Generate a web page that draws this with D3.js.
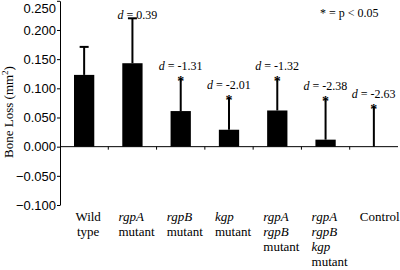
<!DOCTYPE html>
<html><head><meta charset="utf-8">
<script src="https://cdn.jsdelivr.net/npm/d3@7"></script>
<style>body{margin:0;background:#fff}svg{display:block}</style>
</head><body>
<script>
const categories = ["Wild type","rgpA mutant","rgpB mutant","kgp mutant","rgpA rgpB mutant","rgpA rgpB kgp mutant","Control"];
const labelLines = [
  [["Wild",false],["type",false]],
  [["rgpA",true],["mutant",false]],
  [["rgpB",true],["mutant",false]],
  [["kgp",true],["mutant",false]],
  [["rgpA",true],["rgpB",true],["mutant",false]],
  [["rgpA",true],["rgpB",true],["kgp",true],["mutant",false]],
  [["Control",false]]
];
const means = [0.123, 0.143, 0.061, 0.029, 0.062, 0.012, 0.000];
const errUp = [0.048, 0.077, 0.055, 0.055, 0.054, 0.070, 0.068];
const significant = [false, false, true, true, true, true, true];
const dLabels = [null, "0.39", "-1.31", "-2.01", "-1.32", "-2.38", "-2.63"];
const yTicks = [-0.1, -0.05, 0, 0.05, 0.1, 0.15, 0.2, 0.25];

const W = 400, H = 270;
const serif = "Liberation Serif, Times New Roman, serif";
const svg = d3.select("body").append("svg").attr("width", W).attr("height", H);
const y = d3.scaleLinear().domain([-0.1, 0.25]).range([205, 0.8]);
const x = d3.scaleBand().domain(categories).range([60, 398]).paddingInner(0).paddingOuter(0);
const step = x.step();
const barW = step * 0.42;
const cx = c => x(c) + step / 2;

// y axis
const yAxis = svg.append("g").attr("transform", "translate(60,0)")
  .call(d3.axisLeft(y).tickValues(yTicks).tickFormat(d3.format(".3f")).tickSize(3).tickSizeOuter(0));
yAxis.select(".domain").attr("stroke", "#000").attr("stroke-width", 1);
yAxis.selectAll(".tick line").attr("stroke", "#000");
yAxis.selectAll(".tick text").attr("font-family", "Liberation Sans, Arial, sans-serif")
  .attr("font-size", 13).attr("fill", "#000").attr("x", -4)
  .attr("dy", d => d === 0.25 ? "0.9em" : "0.32em");

// zero line with ticks between categories
svg.append("line").attr("x1", 60).attr("x2", 398).attr("y1", y(0)).attr("y2", y(0))
  .attr("stroke", "#000").attr("stroke-width", 1);
svg.selectAll(".zt").data(categories.slice(1)).enter().append("line")
  .attr("x1", d => x(d)).attr("x2", d => x(d))
  .attr("y1", y(0)).attr("y2", y(0) + 3).attr("stroke", "#000");

// bars
svg.selectAll(".bar").data(categories).enter().append("rect")
  .attr("x", d => cx(d) - barW / 2).attr("width", barW)
  .attr("y", (d, i) => y(means[i])).attr("height", (d, i) => y(0) - y(means[i]))
  .attr("fill", "#000");

// error bars
categories.forEach((c, i) => {
  const top = y(means[i] + errUp[i]);
  svg.append("line").attr("x1", cx(c)).attr("x2", cx(c))
    .attr("y1", y(means[i])).attr("y2", top).attr("stroke", "#000").attr("stroke-width", 2);
  if (significant[i]) {
    svg.append("text").attr("x", cx(c)).attr("y", top + 7)
      .attr("text-anchor", "middle").attr("font-family", serif)
      .attr("font-size", 14).attr("font-weight", "bold").text("*");
  } else {
    svg.append("line").attr("x1", cx(c) - 4.5).attr("x2", cx(c) + 4.5)
      .attr("y1", top).attr("y2", top).attr("stroke", "#000").attr("stroke-width", 2);
  }
  if (dLabels[i]) {
    const isTop = i === 1;
    const t = svg.append("text")
      .attr("x", cx(c) + (isTop ? -15 : -22))
      .attr("y", top + (isTop ? 1 : -9))
      .attr("font-family", serif).attr("font-size", 12);
    t.append("tspan").attr("font-style", "italic").text("d");
    t.append("tspan").text(" = " + dLabels[i]);
  }
});

// category labels
categories.forEach((c, i) => {
  const lines = labelLines[i];
  const centered = i === 0;
  const t = svg.append("text")
    .attr("font-family", serif).attr("font-size", 13)
    .attr("text-anchor", centered ? "middle" : "start");
  lines.forEach((ln, j) => {
    t.append("tspan").attr("x", centered ? cx(c) + 4 : cx(c) - 14).attr("y", 221 + j * 15)
      .attr("font-style", ln[1] ? "italic" : "normal").text(ln[0]);
  });
});

// legend
svg.append("text").attr("x", 320).attr("y", 17)
  .attr("font-family", serif).attr("font-size", 12)
  .text("* = p < 0.05");

// y title
const yt = svg.append("text").attr("transform", "translate(13,112) rotate(-90)")
  .attr("text-anchor", "middle").attr("font-family", serif)
  .attr("font-size", 13);
yt.append("tspan").text("Bone Loss (mm");
yt.append("tspan").attr("font-size", 9).attr("dy", -5).text("2");
yt.append("tspan").attr("dy", 5).text(")");
</script>
</body></html>
